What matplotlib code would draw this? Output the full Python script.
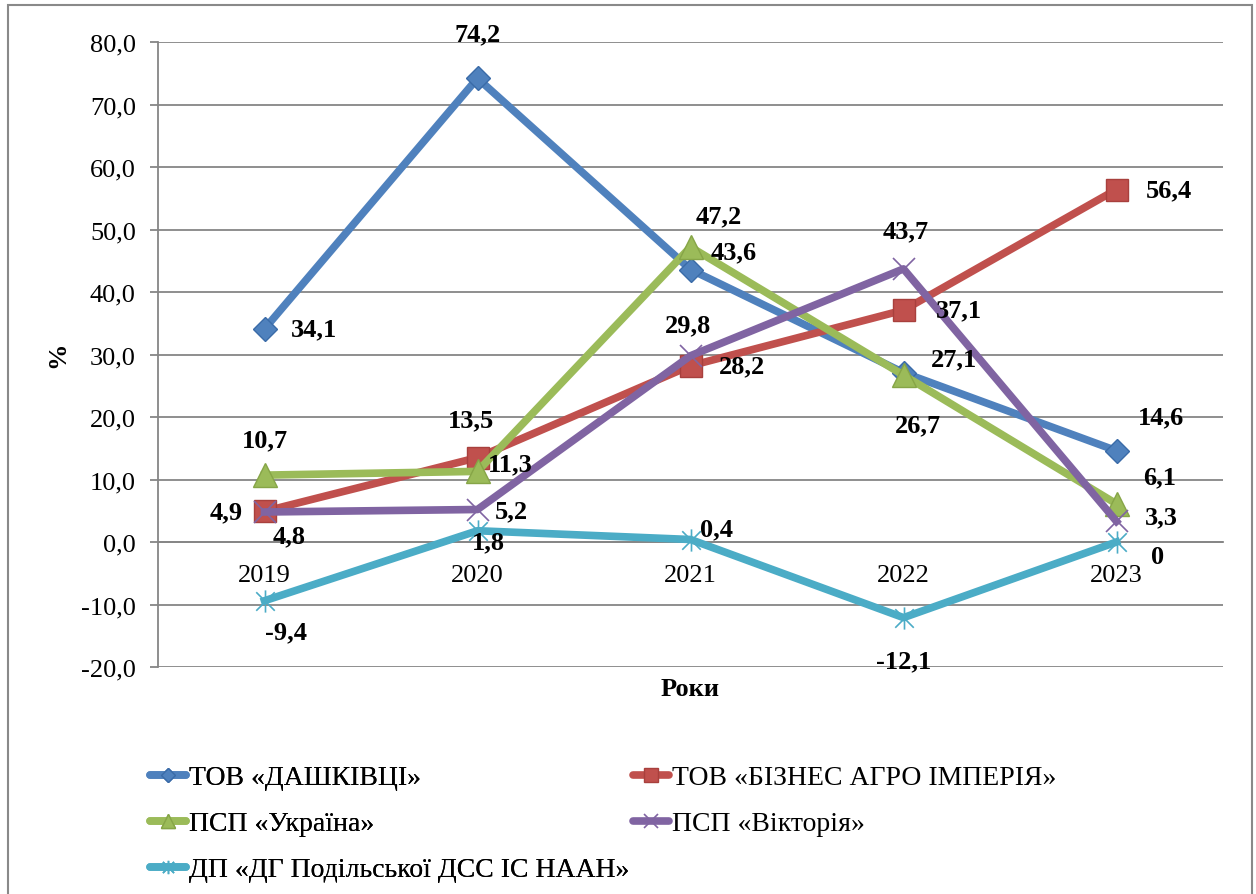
import matplotlib.pyplot as plt
from matplotlib.lines import Line2D
from matplotlib.patches import Rectangle
from matplotlib.path import Path
from matplotlib.ticker import FuncFormatter

plt.rcParams['font.family'] = ['Liberation Serif', 'DejaVu Serif']

years = ['2019', '2020', '2021', '2022', '2023']

names = ['ТОВ «ДАШКІВЦІ»', 'ТОВ «БІЗНЕС АГРО ІМПЕРІЯ»', 'ПСП «Україна»',
         'ПСП «Вікторія»', 'ДП «ДГ Подільської ДСС ІС НААН»']

dashkivtsi = [34.1, 74.2, 43.6, 27.1, 14.6]
biznes = [4.9, 13.5, 28.2, 37.1, 56.4]
ukraina = [10.7, 11.3, 47.2, 26.7, 6.1]
viktoriia = [4.8, 5.2, 29.8, 43.7, 3.3]
dp_dg = [-9.4, 1.8, 0.4, -12.1, 0.0]

label_text = [
    ['34,1', '74,2', '43,6', '27,1', '14,6'],
    ['4,9', '13,5', '28,2', '37,1', '56,4'],
    ['10,7', '11,3', '47,2', '26,7', '6,1'],
    ['4,8', '5,2', '29,8', '43,7', '3,3'],
    ['-9,4', '1,8', '0,4', '-12,1', '0'],
]

# label offsets in pixels (dx right, dy down) from each point
offsets = [
    [(50, 0), (0, -44), (43, -18), (50, -14), (45, -34)],
    [(-38, 0), (-6, -38), (52, 0), (55, 0), (52, 0)],
    [(0, -35), (33, -8), (28, -31), (14, 50), (43, -27)],
    [(25, 24), (34, 1), (-2, -31), (2, -38), (45, -5)],
    [(22, 31), (11, 11), (26, -11), (0, 43), (41, 14)],
]

colors = ['#4F81BD', '#C0504D', '#9BBB59', '#8064A2', '#4BACC6']
edges = ['#3A6BA8', '#A8403D', '#86A547', '#8064A2', '#4BACC6']

star = Path([(-1, -1), (1, 1), (-1, 1), (1, -1), (0, -1.2), (0, 1.2)],
            [Path.MOVETO, Path.LINETO, Path.MOVETO, Path.LINETO, Path.MOVETO, Path.LINETO])
markers = ['D', 's', '^', 'x', star]
msizes = [12, 16, 17, 16, 16]
mews = [1, 1, 1, 1.2, 1.2]

series = [dashkivtsi, biznes, ukraina, viktoriia, dp_dg]

fig = plt.figure(figsize=(12.56, 8.95), dpi=100)
ax = fig.add_axes([158 / 1256, 1 - 668 / 895, (1223 - 158) / 1256, (668 - 43) / 895])

x = list(range(len(years)))
handles = []
for i, vals in enumerate(series):
    ax.plot(x, vals, color=colors[i], lw=5.5, solid_joinstyle='round',
            marker=markers[i], ms=msizes[i], mfc=colors[i], mec=edges[i],
            mew=mews[i], zorder=3 + i)
    for j, v in enumerate(vals):
        dx, dy = offsets[i][j]
        ax.annotate(label_text[i][j], (x[j], v), xytext=(dx, -dy),
                    textcoords='offset pixels', ha='center', va='center',
                    fontsize=19, fontweight='bold', zorder=10)
    handles.append(Line2D([], [], color=colors[i], lw=5.5, solid_capstyle='round',
                          marker=markers[i], ms=msizes[i] * 0.6, mfc=colors[i],
                          mec=edges[i], mew=mews[i]))

ax.set_xlim(-0.5, 4.5)
ax.set_ylim(-20, 80)
ax.set_yticks(range(-20, 81, 10))
ax.yaxis.set_major_formatter(FuncFormatter(lambda v, p: f'{v:.1f}'.replace('.', ',')))
ax.set_xticks(x)
ax.set_xticklabels(years)
ax.grid(axis='y', color='#868686', lw=1.3)
ax.set_axisbelow(True)

for s in ['top', 'right']:
    ax.spines[s].set_visible(False)
ax.spines['bottom'].set_position(('data', 0))
ax.spines['bottom'].set_color('#868686')
ax.spines['bottom'].set_linewidth(1.3)
ax.spines['left'].set_color('#868686')
ax.spines['left'].set_linewidth(1.3)
ax.tick_params(axis='y', length=6, width=1.3, color='#868686', labelsize=19, pad=10)
ax.tick_params(axis='x', length=0, labelsize=19, pad=16)

fig.text(58 / 1256, 1 - 355 / 895, '%', rotation=90, ha='center', va='center',
         fontsize=19, fontweight='bold')
fig.text(690 / 1256, 1 - 690 / 895, 'Роки', ha='center', va='center',
         fontsize=19, fontweight='bold')

leg_kw = dict(frameon=False, fontsize=20, handlelength=1.3, handletextpad=0.1,
              labelspacing=0.74, borderpad=0, borderaxespad=0, loc='upper left')
leg1 = fig.legend([handles[0], handles[2], handles[4]], [names[0], names[2], names[4]],
                  bbox_to_anchor=(150 / 1256, 1 - 766 / 895), **leg_kw)
leg2 = fig.legend([handles[1], handles[3]], [names[1], names[3]],
                  bbox_to_anchor=(633 / 1256, 1 - 766 / 895), **leg_kw)
fig.add_artist(leg1)

fig.patches.append(Rectangle((8 / 1256, -0.05), (1252 - 8) / 1256, 1.05 - 6 / 895,
                             transform=fig.transFigure, fill=False,
                             edgecolor='#898989', lw=1.5))

fig.savefig('out.png', dpi=100)
